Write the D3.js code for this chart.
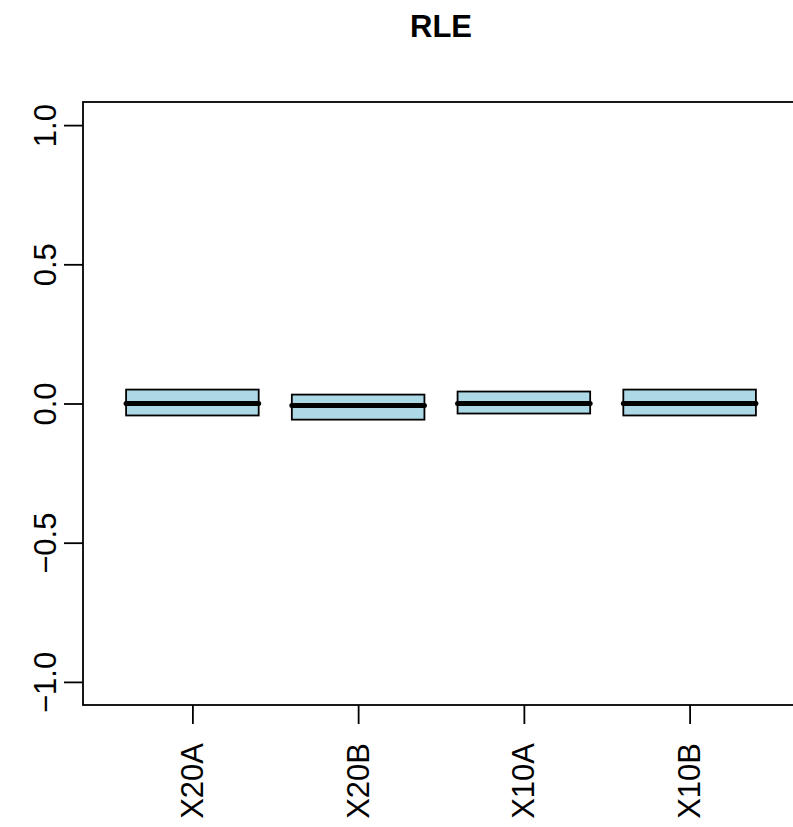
<!DOCTYPE html>
<html>
<head>
<meta charset="utf-8">
<script src="https://cdn.jsdelivr.net/npm/d3@7"></script>
<style>
  body { margin: 0; background: #fff; }
  svg { font-family: "Liberation Sans", Arial, sans-serif; }
</style>
</head>
<body>
<script>
// data
var samples = ["X20A", "X20B", "X10A", "X10B"];
var lower = [-0.043, -0.058, -0.036, -0.043];
var medians = [0.0, -0.007, 0.0, 0.0];
var upper = [0.050, 0.032, 0.043, 0.050];
var yTicks = [-1.0, -0.5, 0.0, 0.5, 1.0];

var w = 793, h = 827;
var padLeft = 83, padRight = 799, padTop = 102, padBottom = 705;

var svg = d3.select("body").append("svg")
  .attr("width", w)
  .attr("height", h);

// title
svg.append("text")
  .attr("x", (padLeft + padRight) / 2)
  .attr("y", 37)
  .attr("text-anchor", "middle")
  .style("font-size", "31px")
  .style("font-weight", "bold")
  .text("RLE");

var xScale = d3.scaleLinear()
  .domain([0.34, 4.66])
  .range([padLeft, padRight]);

var yScale = d3.scaleLinear()
  .domain([-1.083, 1.083])
  .range([padBottom, padTop]);

// plot frame
svg.append("rect")
  .attr("x", padLeft)
  .attr("y", padTop)
  .attr("width", padRight - padLeft)
  .attr("height", padBottom - padTop)
  .attr("fill", "none")
  .attr("stroke", "#000")
  .attr("stroke-width", 1.8);

// y axis
var yAxis = d3.axisLeft(yScale)
  .tickValues(yTicks)
  .tickSize(19)
  .tickFormat(function(d) { return d3.format(".1f")(d).replace("-", "\u2212"); });

var gy = svg.append("g")
  .attr("transform", "translate(" + padLeft + ",0)")
  .call(yAxis);
gy.select(".domain").remove();
gy.selectAll("line").attr("stroke", "#000").attr("stroke-width", 1.8);
gy.selectAll("text")
  .attr("x", 0).attr("y", 0).attr("dy", 0)
  .attr("transform", "translate(-27,0) rotate(-90)")
  .attr("text-anchor", "middle")
  .style("font-size", "31px")
  .attr("fill", "#000");

// x axis
var xAxis = d3.axisBottom(xScale)
  .tickValues(d3.range(1, samples.length + 1))
  .tickSize(19)
  .tickFormat(function(d) { return samples[d - 1]; });

var gx = svg.append("g")
  .attr("transform", "translate(0," + padBottom + ")")
  .call(xAxis);
gx.select(".domain").remove();
gx.selectAll("line").attr("stroke", "#000").attr("stroke-width", 1.8);
gx.selectAll("text")
  .attr("x", 0).attr("y", 0).attr("dy", 0)
  .attr("transform", "translate(10,38) rotate(-90)")
  .attr("text-anchor", "end")
  .style("font-size", "31px")
  .attr("fill", "#000");

// boxes
var boxW = 0.8;
var boxes = svg.append("g");
samples.forEach(function(s, i) {
  var x0 = xScale(i + 1 - boxW / 2), x1 = xScale(i + 1 + boxW / 2);
  boxes.append("rect")
    .attr("x", x0)
    .attr("y", yScale(upper[i]))
    .attr("width", x1 - x0)
    .attr("height", yScale(lower[i]) - yScale(upper[i]))
    .attr("fill", "#add8e6")
    .attr("stroke", "#000")
    .attr("stroke-width", 1.8);
  boxes.append("line")
    .attr("x1", x0).attr("x2", x1)
    .attr("y1", yScale(medians[i])).attr("y2", yScale(medians[i]))
    .attr("stroke", "#000")
    .attr("stroke-width", 5)
    .attr("stroke-linecap", "round");
});
</script>
</body>
</html>
